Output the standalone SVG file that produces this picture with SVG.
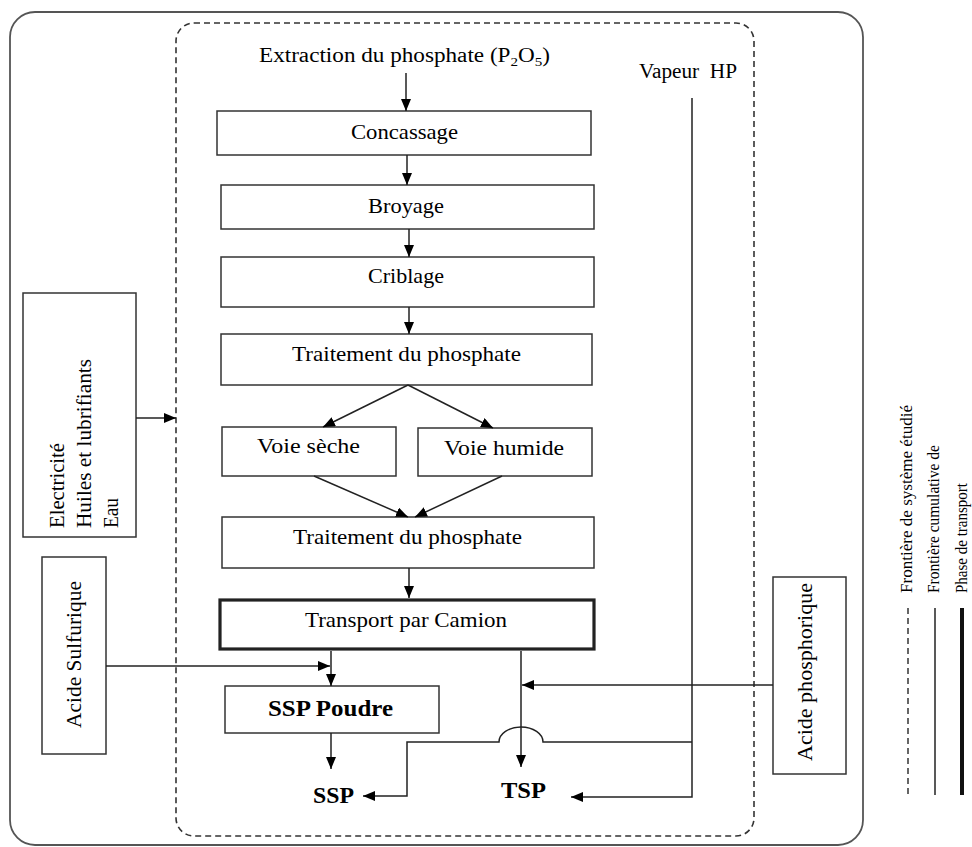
<svg xmlns="http://www.w3.org/2000/svg" width="972" height="847" viewBox="0 0 972 847">
<style>
text{font-family:"Liberation Serif","Times New Roman",serif;fill:#000}
.t{font-size:22px;text-anchor:middle}
.r{font-size:21px}
.b{font-size:24px;font-weight:bold;text-anchor:middle}
.lg{font-size:17px}
.box{fill:#fff;stroke:#333;stroke-width:1.5}
.thick{fill:#fff;stroke:#222;stroke-width:3.2}
.c{fill:none;stroke:#222;stroke-width:1.5}
</style>
<defs>
<marker id="ah" markerUnits="userSpaceOnUse" markerWidth="12" markerHeight="10" refX="12" refY="5" orient="auto">
<path d="M0,0 L12,5 L0,10 z" fill="#000"/>
</marker>
</defs>
<rect x="10" y="12" width="853" height="833" rx="25" ry="25" fill="none" stroke="#555" stroke-width="1.8"/>
<rect x="176" y="23" width="578" height="813" rx="18" ry="18" fill="none" stroke="#333" stroke-width="1.6" stroke-dasharray="6 4"/>

<g id="extraction">
<text x="404.5" y="62" font-size="20" text-anchor="middle" textLength="291" lengthAdjust="spacingAndGlyphs">Extraction du phosphate (P<tspan font-size="13" dy="4">2</tspan><tspan dy="-4">O</tspan><tspan font-size="13" dy="4">5</tspan><tspan dy="-4">)</tspan></text>
</g>
<g id="vapeur">
<text x="639" y="78" font-size="20" textLength="98" lengthAdjust="spacingAndGlyphs">Vapeur&#160; HP</text>
</g>
<g id="concassage">
<rect class="box" x="217" y="111" width="374" height="44"/>
<text class="t" x="404.5" y="139" textLength="107" lengthAdjust="spacingAndGlyphs">Concassage</text>
</g>
<g id="broyage">
<rect class="box" x="221" y="185" width="373" height="44"/>
<text class="t" x="406" y="213" textLength="76" lengthAdjust="spacingAndGlyphs">Broyage</text>
</g>
<g id="criblage">
<rect class="box" x="221" y="257" width="373" height="50"/>
<text class="t" x="406" y="283" textLength="76" lengthAdjust="spacingAndGlyphs">Criblage</text>
</g>
<g id="traitement1">
<rect class="box" x="221" y="334" width="371" height="51"/>
<text class="t" x="406.5" y="361" textLength="229" lengthAdjust="spacingAndGlyphs">Traitement du phosphate</text>
</g>
<g id="voie-seche">
<rect class="box" x="222" y="427" width="174" height="49"/>
<text class="t" x="308.5" y="453" textLength="103" lengthAdjust="spacingAndGlyphs">Voie sèche</text>
</g>
<g id="voie-humide">
<rect class="box" x="418" y="428" width="174" height="48"/>
<text class="t" x="504" y="455" textLength="120" lengthAdjust="spacingAndGlyphs">Voie humide</text>
</g>
<g id="traitement2">
<rect class="box" x="222" y="517" width="372" height="51"/>
<text class="t" x="407.5" y="544" textLength="229" lengthAdjust="spacingAndGlyphs">Traitement du phosphate</text>
</g>
<g id="transport">
<rect class="thick" x="220" y="600" width="374" height="49"/>
<text class="t" x="406" y="627" textLength="202" lengthAdjust="spacingAndGlyphs">Transport par Camion</text>
</g>
<g id="ssp-poudre">
<rect class="box" x="225" y="686" width="214" height="47"/>
<text class="b" x="330.5" y="716" textLength="125" lengthAdjust="spacingAndGlyphs">SSP Poudre</text>
</g>
<g id="ssp">
<text class="b" x="333.5" y="803" textLength="41" lengthAdjust="spacingAndGlyphs">SSP</text>
</g>
<g id="tsp">
<text class="b" x="523.5" y="798" textLength="45" lengthAdjust="spacingAndGlyphs">TSP</text>
</g>
<g id="intrants">
<rect class="box" x="23" y="293" width="113" height="244"/>
<text class="r" transform="translate(64,528) rotate(-90)" textLength="85" lengthAdjust="spacingAndGlyphs">Electricité</text>
<text class="r" transform="translate(91,528) rotate(-90)" textLength="169" lengthAdjust="spacingAndGlyphs">Huiles et lubrifiants</text>
<text class="r" transform="translate(118,528) rotate(-90)" textLength="30" lengthAdjust="spacingAndGlyphs">Eau</text>
</g>
<g id="acide-sulfurique">
<rect class="box" x="42" y="557" width="64" height="197"/>
<text class="r" transform="translate(81,654.5) rotate(-90)" text-anchor="middle" textLength="147" lengthAdjust="spacingAndGlyphs">Acide Sulfurique</text>
</g>
<g id="acide-phosphorique">
<rect class="box" x="773" y="577" width="73" height="197"/>
<text class="r" transform="translate(812,672) rotate(-90)" text-anchor="middle" textLength="178" lengthAdjust="spacingAndGlyphs">Acide phosphorique</text>
</g>
<g id="legende">
<text class="lg" transform="translate(912,593) rotate(-90)" textLength="188" lengthAdjust="spacingAndGlyphs">Frontière de système étudié</text>
<text class="lg" transform="translate(939,593) rotate(-90)" textLength="148" lengthAdjust="spacingAndGlyphs">Frontière cumulative de</text>
<text class="lg" transform="translate(967,593) rotate(-90)" textLength="110" lengthAdjust="spacingAndGlyphs">Phase de transport</text>
<line x1="908" y1="608" x2="908" y2="795" stroke="#333" stroke-width="1.5" stroke-dasharray="6 4"/>
<line x1="935" y1="608" x2="935" y2="795" stroke="#222" stroke-width="1.5"/>
<line x1="962" y1="608" x2="962" y2="795" stroke="#111" stroke-width="4"/>
</g>

<g id="connectors" class="c">
<path class="c" d="M406,73 L406,111" marker-end="url(#ah)"/>
<path class="c" d="M407,155 L407,185" marker-end="url(#ah)"/>
<path class="c" d="M409,229 L409,257" marker-end="url(#ah)"/>
<path class="c" d="M409,307 L409,334" marker-end="url(#ah)"/>
<path class="c" d="M408,385 L323,427" marker-end="url(#ah)"/>
<path class="c" d="M408,385 L493,428" marker-end="url(#ah)"/>
<path class="c" d="M314,476 L408,517" marker-end="url(#ah)"/>
<path class="c" d="M502,476 L415,517" marker-end="url(#ah)"/>
<path class="c" d="M409,568 L409,598" marker-end="url(#ah)"/>
<path class="c" d="M136,418 L176,418" marker-end="url(#ah)"/>
<path class="c" d="M106,666 L330,666" marker-end="url(#ah)"/>
<path class="c" d="M331,651 L331,686" marker-end="url(#ah)"/>
<path class="c" d="M331,733 L331,769" marker-end="url(#ah)"/>
<path class="c" d="M521,651 L521,767" marker-end="url(#ah)"/>
<path class="c" d="M773,685 L522,685" marker-end="url(#ah)"/>
<path class="c" d="M692,98 L692,797 L571,797" marker-end="url(#ah)"/>
<path class="c" d="M692,742 L543,742 A22,15 0 0 0 499,742 L407,742 L407,796 L363,796" marker-end="url(#ah)"/>
</g>
</svg>
